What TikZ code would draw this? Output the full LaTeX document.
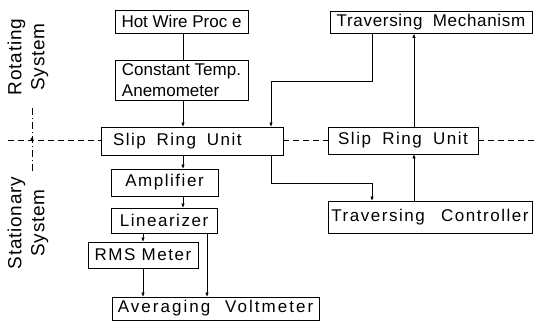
\documentclass[tikz,border=0pt]{standalone}
\usepackage{fontspec}
\setmainfont{Liberation Sans}
\usetikzlibrary{arrows.meta}
\newcommand{\ls}[1]{\addfontfeatures{LetterSpace=#1}}
\begin{document}
\begin{tikzpicture}[x=1pt,y=-1pt,
  box/.style={draw, line width=0.9pt, inner sep=0pt, font=\fontsize{17}{21}\selectfont},
  conn/.style={line width=0.7pt},
  arr/.style={conn, -{Triangle[length=4pt,width=3pt]}},
  sep/.style={line width=0.7pt, dash pattern=on 6pt off 4pt},
  side/.style={rotate=90, align=center, font=\fontsize{19}{23}\selectfont\addfontfeatures{LetterSpace=4}}]
\useasboundingbox (0,0) rectangle (534,326);
% boxes
\node[box, minimum width=133, minimum height=23] (hw) at (181.5,21.5) {Hot Wire Proc e};
\node[box, minimum width=133, minimum height=40, align=left] (cta) at (181.5,80) {Constant Temp.\\Anemometer};
\node[box, minimum width=182, minimum height=28, text width=158, align=left] (srl) at (192,141) {\ls{9}Slip\hspace{5pt} Ring\hspace{5pt} Unit};
\node[box, minimum width=107, minimum height=27] (amp) at (164.5,182.5) {\ls{9}Amplifier};
\node[box, minimum width=106, minimum height=25] (lin) at (164,220.5) {\ls{9}Linearizer};
\node[box, minimum width=110, minimum height=26] (rms) at (143,255) {\ls{9}RMS Meter};
\node[box, minimum width=207, minimum height=23] (av) at (215.5,308.5) {\ls{12}Averaging\hspace{8pt} Voltmeter};
\node[box, minimum width=202, minimum height=22] (tm) at (431,22.5) {\ls{4}Traversing\hspace{5pt} Mechanism};
\node[box, minimum width=150, minimum height=27] (srr) at (403,140.5) {\ls{9}Slip\hspace{5pt} Ring\hspace{5pt} Unit};
\node[box, minimum width=204, minimum height=32] (tc) at (430,217) {\ls{9}Traversing\hspace{10pt} Controller};
% side labels
\node[side] (rot) at (28,57) {Rotating\\System};
\node[side] (sta) at (28,223) {Stationary\\System};
% helper coordinates
\coordinate (xa) at (183,0);
\coordinate (xl) at (271,0);
\coordinate (xm) at (372,0);
\coordinate (xr) at (414,0);
\coordinate (xrms) at (143,0);
\coordinate (xav) at (207,0);
\coordinate (b1) at (0,81);
\coordinate (b2) at (0,183);
% connectors
\draw[conn] (hw.south -| xa) -- (cta.north -| xa);
\draw[arr] (cta.south -| xa) -- (srl.north -| xa);
\draw[arr] (srl.south -| xa) -- (amp.north -| xa);
\draw[arr] (amp.south -| xa) -- (lin.north -| xa);
\draw[arr] (lin.south -| xrms) -- (rms.north -| xrms);
\draw[arr] (rms.south -| xrms) -- (av.north -| xrms);
\draw[arr] (lin.south -| xav) -- (av.north -| xav);
\draw[arr] (tm.south -| xm) -- (xm |- b1) -| (srl.north -| xl);
\draw[arr] (srl.south -| xl) -- (xl |- b2) -| (tc.north -| xm);
\draw[arr] (srr.north -| xr) -- (tm.south -| xr);
\draw[arr] (tc.north -| xr) -- (srr.south -| xr);
% separation lines
\coordinate (hl) at (8,140);
\coordinate (hr) at (534,140);
\draw[sep] (hl) -- (hl -| srl.west);
\draw[sep] (srl.east |- hl) -- (srr.west |- hl);
\draw[sep] (srr.east |- hl) -- (hr);
\coordinate (vt) at (32,108);
\coordinate (vb) at (32,172);
\draw[line width=0.7pt, dash pattern=on 7pt off 3pt on 1pt off 3pt] (vt) -- (vb);
\fill (32,139) circle (1.6);
\end{tikzpicture}
\end{document}
